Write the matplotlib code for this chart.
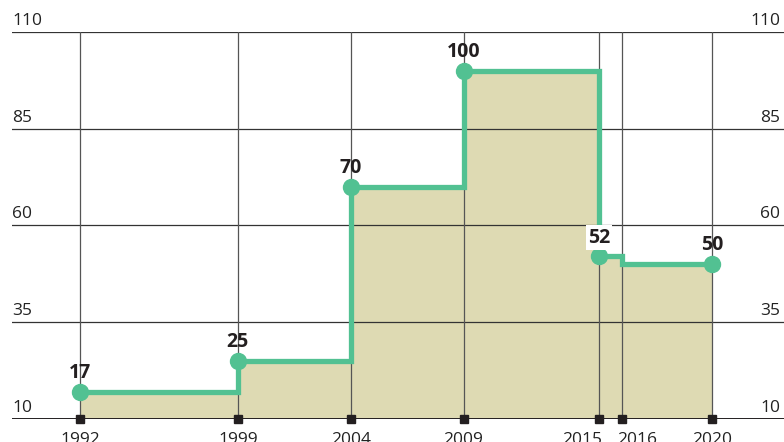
import matplotlib.pyplot as plt
import matplotlib.transforms as mtransforms

years = [1992, 1999, 2004, 2009, 2015, 2016, 2020]
values = [17, 25, 70, 100, 52, 50, 50]
labeled_years = [1992, 1999, 2004, 2009, 2015, 2020]
labeled_values = [17, 25, 70, 100, 52, 50]
yticks = [10, 35, 60, 85, 110]

green = '#52C192'
beige = '#DEDAB3'
dark = '#231F20'

plt.rcParams['font.family'] = ['Open Sans', 'DejaVu Sans']

fig = plt.figure(figsize=(7.84, 4.42), dpi=100)
ax = fig.add_axes([12 / 784, 23 / 442, 772 / 784, 387 / 442])
ax.set_xlim(1988.99, 2023.2)
ax.set_ylim(10, 110)
ax.axis('off')

# fill under the step line
ax.fill_between(years, 10, values, step='post', color=beige, lw=0, zorder=1)

# horizontal grid + labels on both sides
ytr = mtransforms.blended_transform_factory(ax.transAxes, ax.transData)
for v in yticks:
    lw = 1.4 if v == 10 else 0.9
    ax.axhline(v, color='#333333' if v != 10 else dark, lw=lw, zorder=2)
    off = mtransforms.offset_copy(ytr, fig=fig, x=0, y=3, units='dots')
    ax.text(0.0, v, str(v), transform=off, ha='left', va='bottom',
            fontsize=12.5, color='#222222')
    ax.text(0.995, v, str(v), transform=off, ha='right', va='bottom',
            fontsize=12.5, color='#222222')

# vertical lines for each year
for y in years:
    ax.plot([y, y], [10, 110], color='#555555', lw=0.9, zorder=2)

# step line
ax.step(years, values, where='post', color=green, lw=3.8, zorder=4,
        solid_joinstyle='miter')
ax.plot(labeled_years, labeled_values, 'o', color=green, ms=11.5, zorder=5,
        clip_on=False)

# value labels
for x, v in zip(labeled_years, labeled_values):
    bbox = None
    if v == 52:
        bbox = dict(facecolor='white', edgecolor='none', pad=1.5)
    ax.annotate(str(v), (x, v), xytext=(0, 10), textcoords='offset points',
                ha='center', va='baseline', fontsize=14, fontweight='bold',
                color=dark, zorder=6, bbox=bbox)

# year markers and labels on the baseline
ax.plot(years, [10] * len(years), 's', color=dark, ms=6, zorder=6, clip_on=False)
for y in years:
    ha, dx = 'center', 0
    if y == 2015:
        ha, dx = 'right', 2
    elif y == 2016:
        ha, dx = 'left', -3
    ax.annotate(str(y), (y, 10), xytext=(dx, -9), textcoords='offset points',
                ha=ha, va='top', fontsize=12.5, color='#222222',
                annotation_clip=False)

fig.savefig('out.png', dpi=100)
